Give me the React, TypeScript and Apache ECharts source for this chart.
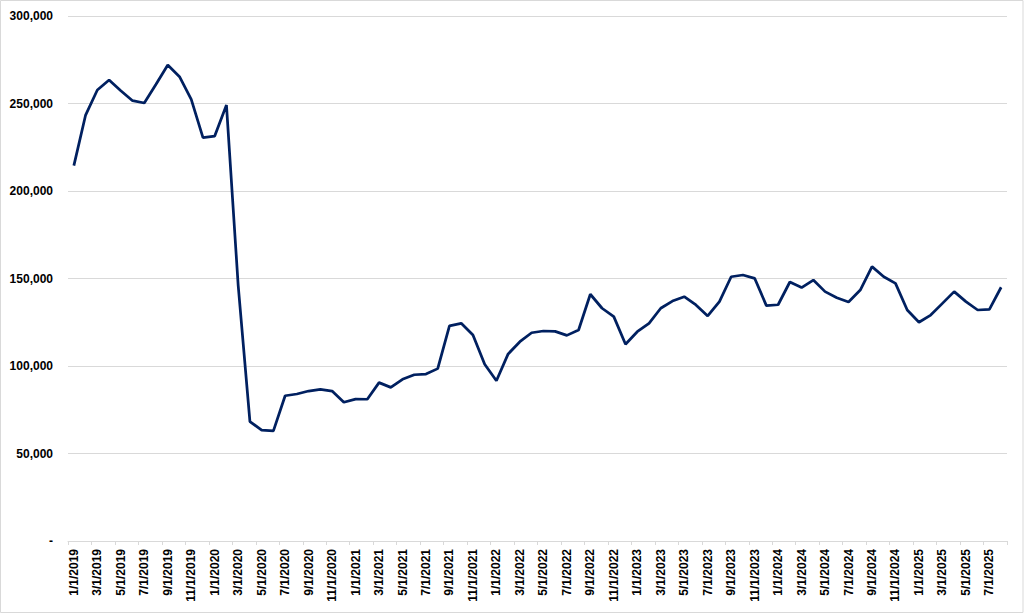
import React, { useEffect, useRef } from "react";
import * as echarts from "echarts";

const months: string[] = [];
for (let y = 2019; y <= 2025; y++) {
  for (let m = 1; m <= 12; m++) {
    if (y === 2025 && m > 8) break;
    months.push(`${m}/1/${y}`);
  }
}

const values2019 = [214500, 243400, 257700, 263400, 257300, 251600, 250300, 261000, 272000, 265300, 252400, 230500];
const values2020 = [231400, 249100, 146000, 68200, 63400, 62900, 83000, 84000, 85700, 86700, 85700, 79300];
const values2021 = [81100, 81000, 90500, 87800, 92400, 95000, 95400, 98500, 122900, 124400, 117700, 101000];
const values2022 = [91600, 106900, 113900, 119000, 120000, 119800, 117500, 120600, 141000, 133000, 128200, 112400];
const values2023 = [119600, 124400, 133000, 137100, 139600, 134900, 128600, 136800, 151000, 152000, 150100, 134500];
const values2024 = [135000, 148000, 144800, 149100, 142500, 139000, 136600, 143400, 156800, 151000, 147200, 132000];
const values2025 = [125000, 129100, 135800, 142500, 136800, 132000, 132400, 145000];

const seriesValues = [
  ...values2019, ...values2020, ...values2021, ...values2022,
  ...values2023, ...values2024, ...values2025,
];

const yTicks = [0, 50000, 100000, 150000, 200000, 250000, 300000];

export default function App() {
  const ref = useRef<HTMLDivElement>(null);
  useEffect(() => {
    document.body.style.margin = "0";
    const chart = echarts.init(ref.current!, null, { renderer: "svg" });
    const font = "'Liberation Sans', Arial, sans-serif";
    chart.setOption({
      animation: false,
      backgroundColor: "#ffffff",
      grid: { left: 68, right: 17, top: 16, bottom: 73, containLabel: false },
      graphic: [
        {
          type: "rect",
          shape: { x: 0.5, y: 0.5, width: 1022.5, height: 612 },
          style: { fill: "none", stroke: "#d9d9d9", lineWidth: 1 },
          silent: true,
        },
      ],
      xAxis: {
        type: "category",
        data: months,
        boundaryGap: true,
        axisLine: { show: true, lineStyle: { color: "#d9d9d9", width: 1 } },
        axisTick: { show: true, interval: 1, length: 4, lineStyle: { color: "#d9d9d9" } },
        axisLabel: {
          interval: 1,
          rotate: 90,
          margin: 8,
          color: "#000000",
          fontSize: 12,
          fontWeight: "bold",
          fontFamily: font,
        },
        splitLine: { show: false },
      },
      yAxis: {
        type: "value",
        min: yTicks[0],
        max: yTicks[yTicks.length - 1],
        interval: 50000,
        axisLine: { show: false },
        axisTick: { show: false },
        axisLabel: {
          color: "#000000",
          fontSize: 12,
          fontWeight: "bold",
          fontFamily: font,
          margin: 15,
          formatter: (v: number) => (v === 0 ? "-" : v.toLocaleString("en-US")),
        },
        splitLine: { show: true, lineStyle: { color: "#d9d9d9", width: 1 } },
      },
      series: [
        {
          type: "line",
          data: seriesValues,
          showSymbol: false,
          symbol: "none",
          lineStyle: { color: "#002060", width: 2.75 },
          itemStyle: { color: "#002060" },
        },
      ],
    });
    return () => chart.dispose();
  }, []);
  return <div ref={ref} style={{ width: 1024, height: 614 }} />;
}
